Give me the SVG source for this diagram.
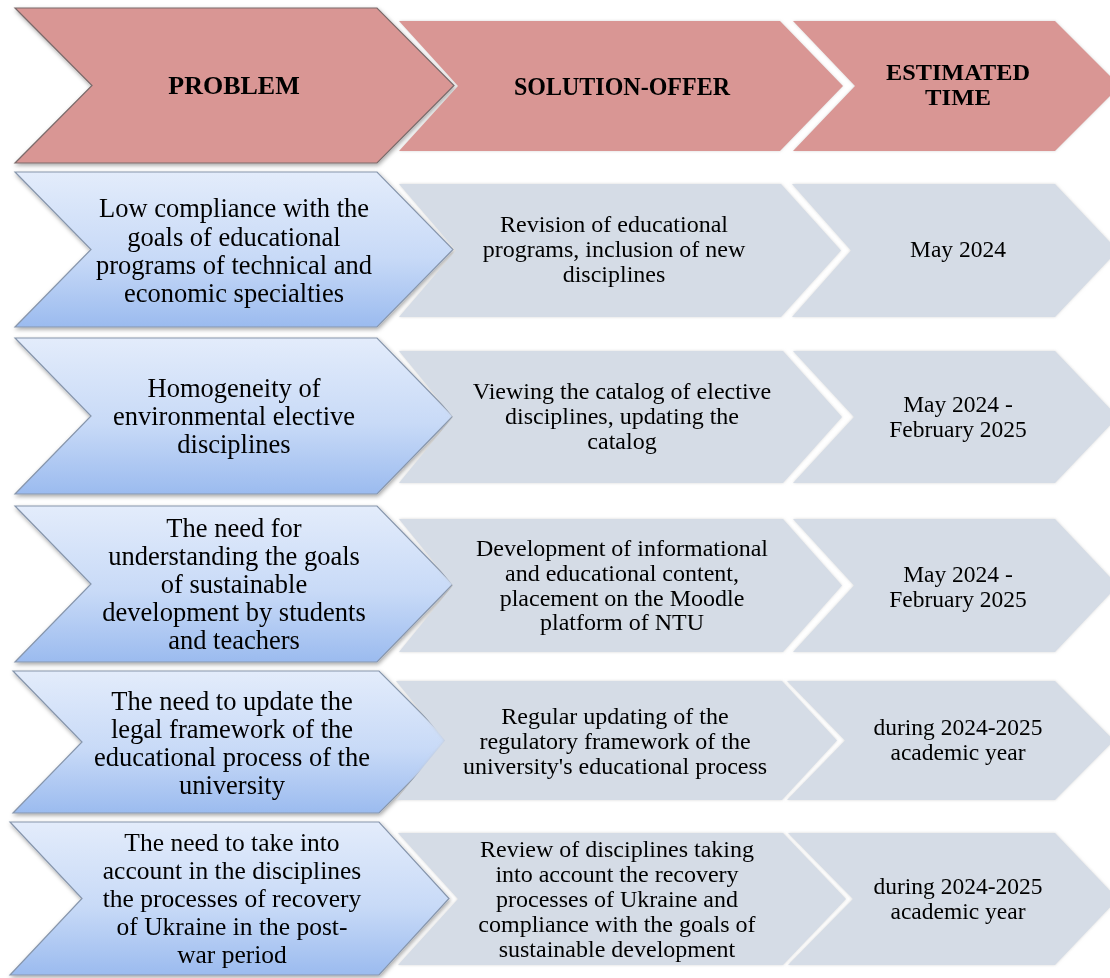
<svg xmlns="http://www.w3.org/2000/svg" width="1110" height="978" viewBox="0 0 1110 978">
<defs>
<linearGradient id="gBlue" x1="0" y1="0" x2="0" y2="1">
<stop offset="0" stop-color="#E3ECFB"/>
<stop offset="0.55" stop-color="#C8DAF7"/>
<stop offset="1" stop-color="#9BBBEF"/>
</linearGradient>
<filter id="sh" x="-5%" y="-5%" width="112%" height="115%">
<feDropShadow dx="1" dy="2" stdDeviation="2" flood-color="#000" flood-opacity="0.35"/>
</filter>
<filter id="glow" x="-5%" y="-5%" width="110%" height="110%">
<feDropShadow dx="0" dy="0" stdDeviation="1.5" flood-color="#bbb" flood-opacity="0.6"/>
</filter>
</defs>
<style>
.hdr{fill:#D99694}
.hdrL{fill:#D99694;stroke:#7a6a6a;stroke-width:1.2}
.prob{fill:url(#gBlue);stroke:#8796AC;stroke-width:1.2}
.cell{fill:#D5DCE6}
.t{font-family:"Liberation Serif","Times New Roman",serif;fill:#000;text-anchor:middle}
.h{font-weight:bold;font-size:26px}
.h2{font-weight:bold;font-size:22.5px}
.p{font-size:26.5px}
.p5{font-size:25.5px}
.s{font-size:24px}
.d{font-size:23.5px}
</style>
<rect width="1110" height="978" fill="#fff"/>

<g id="header">
<g id="h-problem" filter="url(#sh)"><polygon class="hdrL" points="15,8 377,8 454,85.5 377,163 15,163 92,85.5"/><text class="t h" font-family="Liberation Serif, serif" x="234" y="94">PROBLEM</text></g>
<g id="h-solution" filter="url(#glow)"><polygon class="hdr" points="399,21 780,21 843,86 780,151 399,151 458,86"/><text class="t h" font-family="Liberation Serif, serif" x="622" y="95" textLength="216" lengthAdjust="spacingAndGlyphs">SOLUTION-OFFER</text></g>
<g id="h-time" filter="url(#glow)"><polygon class="hdr" points="793,21 1055,21 1120,86 1055,151 793,151 855,86"/><text class="t h2" font-family="Liberation Serif, serif" x="958" y="80" textLength="144" lengthAdjust="spacingAndGlyphs">ESTIMATED</text><text class="t h2" font-family="Liberation Serif, serif" x="958" y="105" textLength="66" lengthAdjust="spacingAndGlyphs">TIME</text></g>
</g>

<g id="row1">
<g id="p1" filter="url(#sh)"><polygon class="prob" points="15,172 377,172 453,249.5 377,327 15,327 91,249.5"/>
<text class="t p" font-family="Liberation Serif, serif"><tspan x="234" y="217">Low compliance with the</tspan><tspan x="234" y="245.5">goals of educational</tspan><tspan x="234" y="274">programs of technical and</tspan><tspan x="234" y="302">economic specialties</tspan></text></g>
<g id="s1" filter="url(#glow)"><polygon class="cell" points="399,184 781,184 841,250.5 781,317 399,317 456,250.5"/>
<text class="t s" font-family="Liberation Serif, serif"><tspan x="614" y="232">Revision of educational</tspan><tspan x="614" y="257">programs, inclusion of new</tspan><tspan x="614" y="282">disciplines</tspan></text></g>
<g id="t1" filter="url(#glow)"><polygon class="cell" points="792,184 1055,184 1118,250.5 1055,317 792,317 851,250.5"/>
<text class="t d" font-family="Liberation Serif, serif" x="958" y="257">May 2024</text></g>
</g>

<g id="row2">
<g id="p2" filter="url(#sh)"><polygon class="prob" points="15,338 377,338 453,416 377,494 15,494 91,416"/>
<text class="t p" font-family="Liberation Serif, serif"><tspan x="234" y="397">Homogeneity of</tspan><tspan x="234" y="425">environmental elective</tspan><tspan x="234" y="453">disciplines</tspan></text></g>
<g id="s2" filter="url(#glow)"><polygon class="cell" points="399,351 783,351 842,417 783,483 399,483 453,417"/>
<text class="t s" font-family="Liberation Serif, serif"><tspan x="622" y="399">Viewing the catalog of elective</tspan><tspan x="622" y="424">disciplines, updating the</tspan><tspan x="622" y="449">catalog</tspan></text></g>
<g id="t2" filter="url(#glow)"><polygon class="cell" points="793,351 1055,351 1118,417 1055,483 793,483 854,417"/>
<text class="t d" font-family="Liberation Serif, serif"><tspan x="958" y="412">May 2024 -</tspan><tspan x="958" y="437">February 2025</tspan></text></g>
</g>

<g id="row3">
<g id="p3" filter="url(#sh)"><polygon class="prob" points="15,506 377,506 453,584 377,662 15,662 91,584"/>
<text class="t p" font-family="Liberation Serif, serif"><tspan x="234" y="537">The need for</tspan><tspan x="234" y="565">understanding the goals</tspan><tspan x="234" y="593">of sustainable</tspan><tspan x="234" y="621">development by students</tspan><tspan x="234" y="649">and teachers</tspan></text></g>
<g id="s3" filter="url(#glow)"><polygon class="cell" points="399,519 783,519 842,585.5 783,652 399,652 453,585.5"/>
<text class="t s" font-family="Liberation Serif, serif"><tspan x="622" y="556">Development of informational</tspan><tspan x="622" y="581">and educational content,</tspan><tspan x="622" y="606">placement on the Moodle</tspan><tspan x="622" y="630">platform of NTU</tspan></text></g>
<g id="t3" filter="url(#glow)"><polygon class="cell" points="793,519 1055,519 1118,585.5 1055,652 793,652 854,585.5"/>
<text class="t d" font-family="Liberation Serif, serif"><tspan x="958" y="582">May 2024 -</tspan><tspan x="958" y="607">February 2025</tspan></text></g>
</g>

<g id="row4">
<g id="p4" filter="url(#sh)"><polygon class="prob" points="13,671 379,671 450,742 379,813 13,813 82,742"/>
<text class="t p" font-family="Liberation Serif, serif"><tspan x="232" y="710">The need to update the</tspan><tspan x="232" y="738">legal framework of the</tspan><tspan x="232" y="766">educational process of the</tspan><tspan x="232" y="794">university</tspan></text></g>
<g id="s4" filter="url(#glow)"><polygon class="cell" points="396,681 782,681 837,740.5 782,800 396,800 445,740.5"/>
<text class="t s" font-family="Liberation Serif, serif"><tspan x="615" y="724">Regular updating of the</tspan><tspan x="615" y="749">regulatory framework of the</tspan><tspan x="615" y="774">university's educational process</tspan></text></g>
<g id="t4" filter="url(#glow)"><polygon class="cell" points="787,681 1055,681 1114,740.5 1055,800 787,800 845,740.5"/>
<text class="t d" font-family="Liberation Serif, serif"><tspan x="958" y="735">during 2024-2025</tspan><tspan x="958" y="760">academic year</tspan></text></g>
</g>

<g id="row5">
<g id="p5" filter="url(#sh)"><polygon class="prob" points="10,822 379,822 449,898.5 379,975 10,975 82,898.5"/>
<text class="t p5" font-family="Liberation Serif, serif"><tspan x="232" y="851">The need to take into</tspan><tspan x="232" y="879">account in the disciplines</tspan><tspan x="232" y="907">the processes of recovery</tspan><tspan x="232" y="935">of Ukraine in the post-</tspan><tspan x="232" y="963">war period</tspan></text></g>
<g id="s5" filter="url(#glow)"><polygon class="cell" points="398,833 783,833 846,899 783,965 398,965 458,899"/>
<text class="t s" font-family="Liberation Serif, serif"><tspan x="617" y="857">Review of disciplines taking</tspan><tspan x="617" y="882">into account the recovery</tspan><tspan x="617" y="907">processes of Ukraine and</tspan><tspan x="617" y="932">compliance with the goals of</tspan><tspan x="617" y="957">sustainable development</tspan></text></g>
<g id="t5" filter="url(#glow)"><polygon class="cell" points="788,833 1055,833 1118,899 1055,965 788,965 853,899"/>
<text class="t d" font-family="Liberation Serif, serif"><tspan x="958" y="894">during 2024-2025</tspan><tspan x="958" y="919">academic year</tspan></text></g>
</g>

<g id="connectors"></g>
</svg>
